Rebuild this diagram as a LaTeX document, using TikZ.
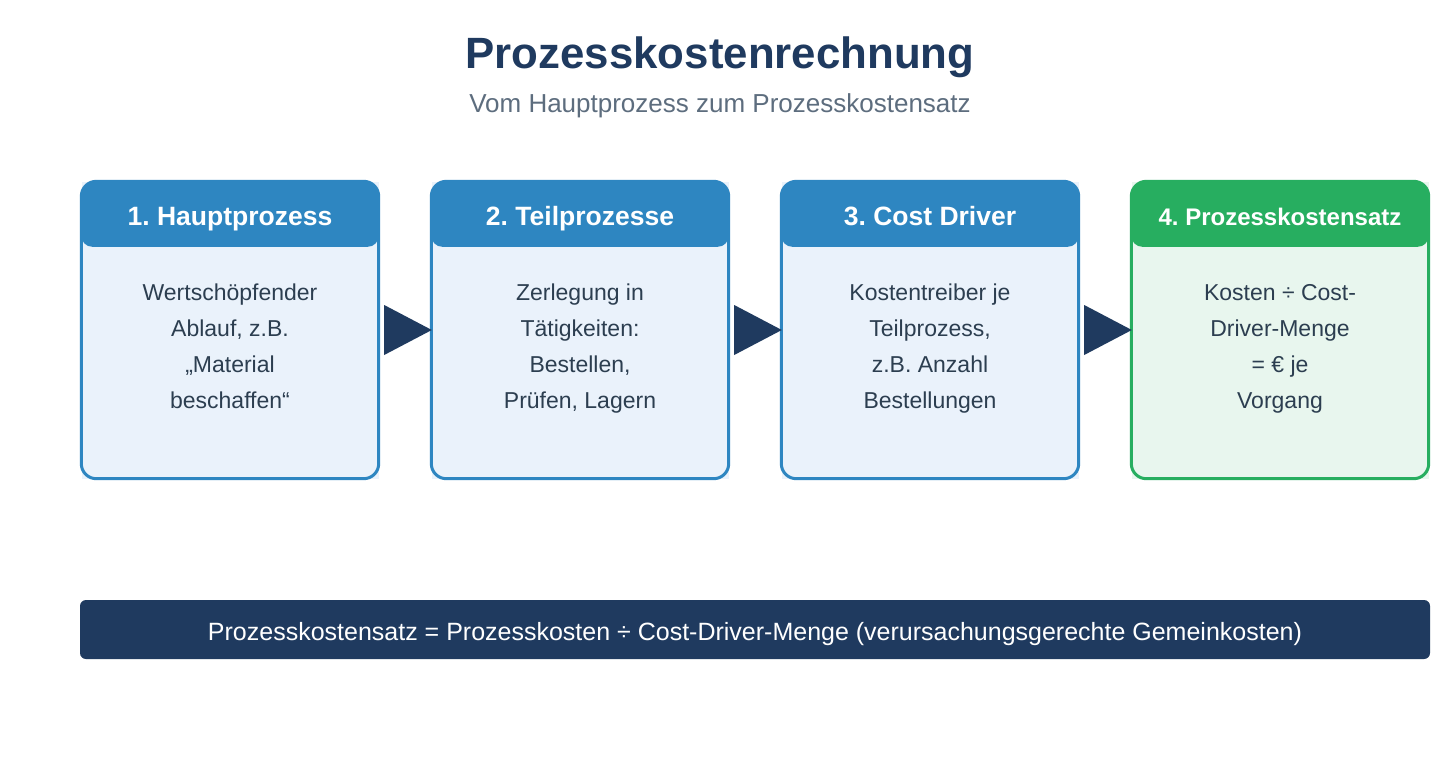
\documentclass[tikz,border=0pt]{standalone}
\usepackage{fontspec}
\setmainfont{Liberation Sans}
\usetikzlibrary{calc,positioning}
\frenchspacing

\definecolor{navy}{HTML}{1F3A5F}
\definecolor{stepblue}{HTML}{2E86C1}
\definecolor{stepbluebg}{HTML}{EAF2FB}
\definecolor{stepgreen}{HTML}{27AE60}
\definecolor{stepgreenbg}{HTML}{E8F6EE}
\definecolor{bodytext}{HTML}{2C3E50}
\definecolor{subgray}{HTML}{5D6D7E}

\begin{document}
\begin{tikzpicture}[x=1pt,y=-1pt,
    card/.style={rectangle,minimum width=297pt,minimum height=297pt,inner sep=0pt},
    headtext/.style={anchor=base,text=white,font=\fontsize{26.5}{30}\selectfont\bfseries},
    bodytxt/.style={anchor=north,inner sep=0pt,align=center,text=bodytext,font=\fontsize{23}{36}\selectfont},
    edge/.style={line width=3pt,rounded corners=15pt}]
        \fill[white] (0,0) rectangle (1440,760);
        \useasboundingbox (0,0) rectangle (1440,760);

        \node[anchor=base,text=navy,font=\fontsize{43.8}{48}\selectfont\bfseries] (title) at (720,69) {Prozesskostenrechnung};
        \node[anchor=base,text=subgray,font=\fontsize{26}{30}\selectfont] (subtitle) at (720,112) {Vom Hauptprozess zum Prozesskostensatz};

        \foreach \i/\x/\col in {1/230/stepblue,2/580/stepblue,3/930/stepblue,4/1280/stepgreen} {
          \node[card,fill=\col bg] (c\i) at (\x,330) {};
          \begin{scope}
            \clip[rounded corners=15pt] (c\i.north west) rectangle (c\i.south east);
            \fill[\col,rounded corners=11pt] ($(c\i.north west)+(0,-20)$) rectangle ($(c\i.north east)+(0,65.5)$);
          \end{scope}
          \draw[edge,\col] (c\i.north west) rectangle (c\i.south east);
        }

        \node[headtext] (h1) at (230,225) {1. Hauptprozess};
        \node[headtext] (h2) at (580,225) {2. Teilprozesse};
        \node[headtext] (h3) at (930,225) {3. Cost Driver};
        \node[headtext,font=\fontsize{24}{28}\selectfont\bfseries] (h4) at (1280,225) {4. Prozesskostensatz};

        \node[bodytxt] (t1) at (230,274.8) {\strut Wertschöpfender\\Ablauf, z.B.\\„Material\\beschaffen“};
        \node[bodytxt] (t2) at (580,274.8) {\strut Zerlegung in\\Tätigkeiten:\\Bestellen,\\Prüfen, Lagern};
        \node[bodytxt] (t3) at (930,274.8) {\strut Kostentreiber je\\Teilprozess,\\z.B. Anzahl\\Bestellungen};
        \node[bodytxt] (t4) at (1280,274.8) {\strut Kosten ÷ Cost-\\Driver-Menge\\= € je\\Vorgang};

        \foreach \i/\j in {1/2,2/3,3/4} {
          \fill[navy] ($(c\i.east)+(5.5,-25)$) -- ($(c\i.east)+(5.5,25)$) -- ($(c\j.west)+(0.5,0)$) -- cycle;
        }

        \node[rectangle,fill=navy,rounded corners=6pt,minimum width=1350pt,minimum height=59pt,inner sep=0pt] (bar) at (755,629.5) {};
        \node[anchor=base,text=white,font=\fontsize{25}{30}\selectfont] (formula) at ($(bar.center)+(0,10.5)$) {Prozesskostensatz = Prozesskosten ÷ Cost-Driver-Menge (verursachungsgerechte Gemeinkosten)};
\end{tikzpicture}
\end{document}
